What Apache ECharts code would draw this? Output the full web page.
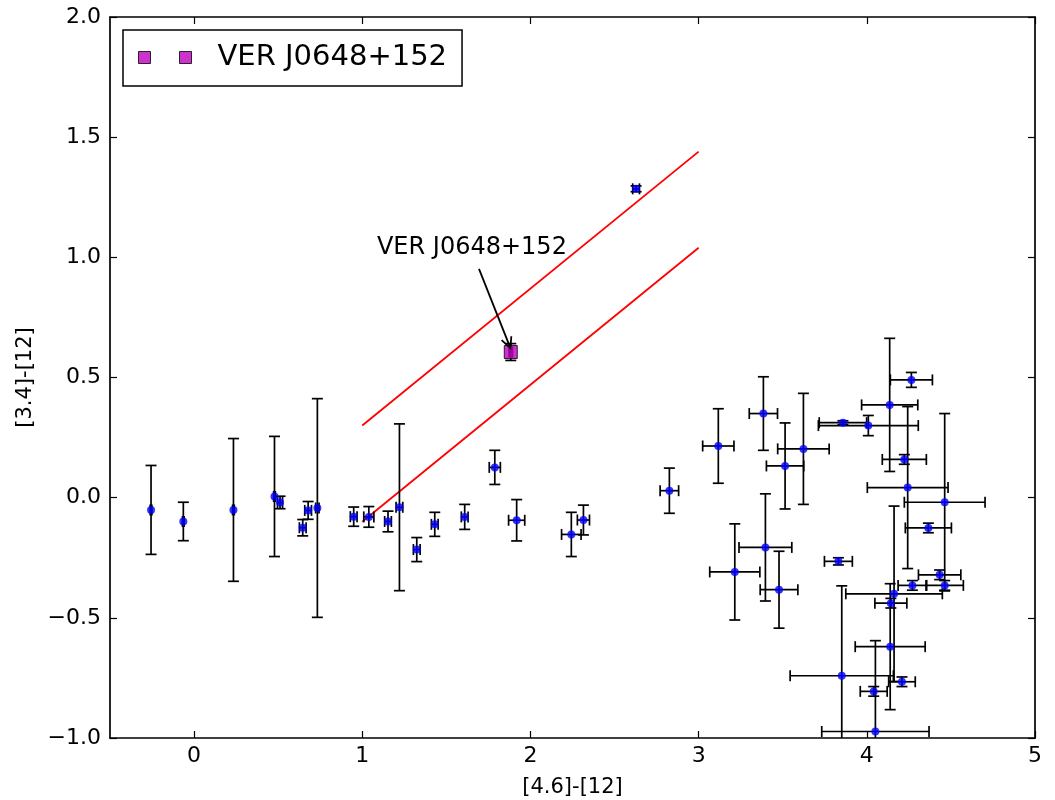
<!DOCTYPE html>
<html><head><meta charset="utf-8">
<script src="https://cdn.jsdelivr.net/npm/echarts@6/dist/echarts.min.js"></script>
<style>html,body{margin:0;padding:0;background:#fff}#c{width:1055px;height:800px}</style>
</head><body><div id="c"></div>
<script>
// ---- data ----
const xTicks = [0, 1, 2, 3, 4, 5];
const yTicks = [-1, -0.5, 0, 0.5, 1, 1.5, 2];
const xLabel = '[4.6]-[12]';
const yLabel = '[3.4]-[12]';

const ptX = [-0.256,-0.064,0.234,0.478,0.511,0.646,0.678,0.733,0.949,1.039,1.153,1.221,1.324,1.431,1.609,1.788,1.918,2.243,2.315,2.628,2.826,3.117,3.385,3.623,3.514,3.858,4.009,4.136,4.265,4.223,4.243,4.463,4.366,3.397,3.215,3.478,3.831,3.851,4.162,4.143,4.139,4.271,4.433,4.463,4.209,4.041,4.051];
const ptY = [-0.051,-0.099,-0.051,0.005,-0.020,-0.125,-0.053,-0.043,-0.079,-0.080,-0.099,-0.040,-0.216,-0.111,-0.080,0.126,-0.094,-0.153,-0.093,1.285,0.029,0.215,0.350,0.203,0.132,0.312,0.300,0.386,0.490,0.159,0.042,-0.019,-0.126,-0.207,-0.309,-0.383,-0.265,-0.741,-0.400,-0.439,-0.620,-0.365,-0.321,-0.365,-0.766,-0.806,-0.973];
const ptXErr = [0.005,0.005,0.005,0.005,0.015,0.02,0.02,0.01,0.02,0.03,0.02,0.02,0.02,0.02,0.02,0.033,0.048,0.058,0.036,0.02,0.055,0.093,0.084,0.153,0.111,0.141,0.297,0.167,0.125,0.131,0.240,0.240,0.137,0.157,0.149,0.112,0.083,0.307,0.287,0.095,0.208,0.085,0.126,0.111,0.079,0.080,0.319];
const ptYErr = [0.185,0.080,0.297,0.250,0.026,0.034,0.037,0.455,0.040,0.043,0.043,0.347,0.050,0.050,0.052,0.071,0.086,0.092,0.062,0.012,0.094,0.155,0.153,0.231,0.179,0.008,0.042,0.277,0.031,0.020,0.337,0.369,0.020,0.223,0.200,0.160,0.015,0.374,0.365,0.020,0.262,0.020,0.020,0.020,0.020,0.020,0.378];

const srcName = 'VER J0648+152';
const srcX = [1.883];
const srcY = [0.606];
const srcXErr = [0.01];
const srcYErr = [0.035];

const upperLine = [[1, 0.30], [3, 1.44]];
const lowerLine = [[1, -0.10], [3, 1.04]];

const annotText = 'VER J0648+152';
const annotTextPos = [1.652, 1.041];
const arrowFrom = [1.694, 0.952];
const arrowTo = [1.881, 0.622];

// ---- chart ----
const X_MIN = -0.5, X_MAX = 5, Y_MIN = -1, Y_MAX = 2;
const FONT = 'DejaVu Sans';
const fmt = v => (Math.round(v * 10) / 10).toFixed(1).replace('-', '\u2212');

function errRender(params, api) {
  const x = api.value(0), y = api.value(1), xe = api.value(2), ye = api.value(3);
  const cap = 5.5;
  const st = { stroke: '#000', lineWidth: 1.7, fill: null };
  const ch = [];
  if (xe > 0) {
    const xl = Math.max(x - xe, X_MIN), xr = Math.min(x + xe, X_MAX);
    const l = api.coord([xl, y]), r = api.coord([xr, y]);
    ch.push({ type: 'line', shape: { x1: l[0], y1: l[1], x2: r[0], y2: r[1] }, style: st });
    if (xl > X_MIN) ch.push({ type: 'line', shape: { x1: l[0], y1: l[1] - cap, x2: l[0], y2: l[1] + cap }, style: st });
    if (xr < X_MAX) ch.push({ type: 'line', shape: { x1: r[0], y1: r[1] - cap, x2: r[0], y2: r[1] + cap }, style: st });
  }
  if (ye > 0) {
    const yb = Math.max(y - ye, Y_MIN), yt = Math.min(y + ye, Y_MAX);
    const b = api.coord([x, yb]), t = api.coord([x, yt]);
    ch.push({ type: 'line', shape: { x1: b[0], y1: b[1], x2: t[0], y2: t[1] }, style: st });
    if (yb > Y_MIN) ch.push({ type: 'line', shape: { x1: b[0] - cap, y1: b[1], x2: b[0] + cap, y2: b[1] }, style: st });
    if (yt < Y_MAX) ch.push({ type: 'line', shape: { x1: t[0] - cap, y1: t[1], x2: t[0] + cap, y2: t[1] }, style: st });
  }
  return { type: 'group', children: ch };
}

function arrowRender(params, api) {
  const p0 = api.coord([api.value(0), api.value(1)]);
  const p1 = api.coord([api.value(2), api.value(3)]);
  const ang = Math.atan2(p1[1] - p0[1], p1[0] - p0[0]);
  const hl = 12, ha = 0.45;
  const st = { stroke: '#000', lineWidth: 1.8, fill: null };
  const a1 = [p1[0] - hl * Math.cos(ang - ha), p1[1] - hl * Math.sin(ang - ha)];
  const a2 = [p1[0] - hl * Math.cos(ang + ha), p1[1] - hl * Math.sin(ang + ha)];
  return { type: 'group', children: [
    { type: 'line', shape: { x1: p0[0], y1: p0[1], x2: p1[0], y2: p1[1] }, style: st },
    { type: 'polyline', shape: { points: [a1, p1, a2] }, style: st }
  ]};
}

const ptData = ptX.map((x, i) => [x, ptY[i], ptXErr[i], ptYErr[i]]);
const srcData = srcX.map((x, i) => [x, srcY[i], srcXErr[i], srcYErr[i]]);

const axisCommon = {
  type: 'value',
  splitLine: { show: false },
  axisLine: { show: true, onZero: false, lineStyle: { color: '#000', width: 1.7 } },
  axisTick: { show: true, inside: true, length: 7, lineStyle: { color: '#000', width: 1.2 } }
};

const option = {
  backgroundColor: '#fff',
  animation: false,
  grid: { left: 110, right: 20, top: 17, bottom: 62, containLabel: false, outerBoundsMode: 'none' },
  xAxis: [
    Object.assign({}, axisCommon, {
      min: X_MIN, max: X_MAX, position: 'bottom',
      axisTick: Object.assign({}, axisCommon.axisTick, { customValues: xTicks }),
      axisLabel: { customValues: xTicks, formatter: v => String(v), color: '#000', fontFamily: FONT, fontSize: 22, margin: 7 },
      name: xLabel, nameLocation: 'middle', nameGap: 39,
      nameTextStyle: { color: '#000', fontFamily: FONT, fontSize: 21 }
    }),
    Object.assign({}, axisCommon, {
      min: X_MIN, max: X_MAX, position: 'top',
      axisTick: Object.assign({}, axisCommon.axisTick, { customValues: xTicks }),
      axisLabel: { show: false, customValues: xTicks }
    })
  ],
  yAxis: [
    Object.assign({}, axisCommon, {
      min: Y_MIN, max: Y_MAX, interval: 0.5, position: 'left',
      axisLabel: { formatter: fmt, color: '#000', fontFamily: FONT, fontSize: 22, margin: 9 },
      name: yLabel, nameLocation: 'middle', nameGap: 74, nameRotate: 90,
      nameTextStyle: { color: '#000', fontFamily: FONT, fontSize: 21 }
    }),
    Object.assign({}, axisCommon, {
      min: Y_MIN, max: Y_MAX, interval: 0.5, position: 'right',
      axisLabel: { show: false }
    })
  ],
  legend: {
    data: [srcName],
    left: 123, top: 30,
    orient: 'horizontal',
    backgroundColor: '#fff',
    borderColor: '#000', borderWidth: 1.5, borderRadius: 0,
    padding: [13, 15, 14, 15],
    icon: 'path://M0,0h12v12h-12z M41,0h12v12h-12z',
    itemWidth: 53, itemHeight: 12,
    itemStyle: { color: '#bf00bf', borderColor: '#000', borderWidth: 1 },
    textStyle: { color: '#000', fontFamily: FONT, fontSize: 29, padding: [0, 0, 0, 21] },
    selectedMode: false
  },
  series: [
    { type: 'line', data: upperLine, showSymbol: false, symbol: 'none', lineStyle: { color: '#ff0000', width: 1.8 }, z: 2, silent: true },
    { type: 'line', data: lowerLine, showSymbol: false, symbol: 'none', lineStyle: { color: '#ff0000', width: 1.8 }, z: 2, silent: true },
    { type: 'custom', name: 'errbars', renderItem: errRender, data: ptData, z: 3, silent: true },
    { type: 'scatter', name: 'points', data: ptData.map(d => [d[0], d[1]]), symbol: 'circle', symbolSize: 8, itemStyle: { color: '#0000ff' }, z: 4, silent: true },
    { type: 'custom', name: 'srcerr', renderItem: errRender, data: srcData, z: 5, silent: true },
    { type: 'scatter', name: srcName, data: srcData.map(d => [d[0], d[1]]), symbol: 'rect', symbolSize: 13,
      itemStyle: { color: '#bf00bf', borderColor: '#000', borderWidth: 1 }, z: 6, silent: true,
      markPoint: {
        symbol: 'circle', symbolSize: 0, silent: true,
        label: { show: true, position: 'inside', formatter: annotText, color: '#000', fontFamily: FONT, fontSize: 24 },
        data: [{ coord: annotTextPos }]
      }
    },
    { type: 'custom', name: 'arrow', renderItem: arrowRender, data: [[arrowFrom[0], arrowFrom[1], arrowTo[0], arrowTo[1]]], z: 7, silent: true }
  ]
};

const chart = echarts.init(document.getElementById('c'), null, { renderer: 'canvas' });
chart.setOption(option);
</script>
</body></html>
